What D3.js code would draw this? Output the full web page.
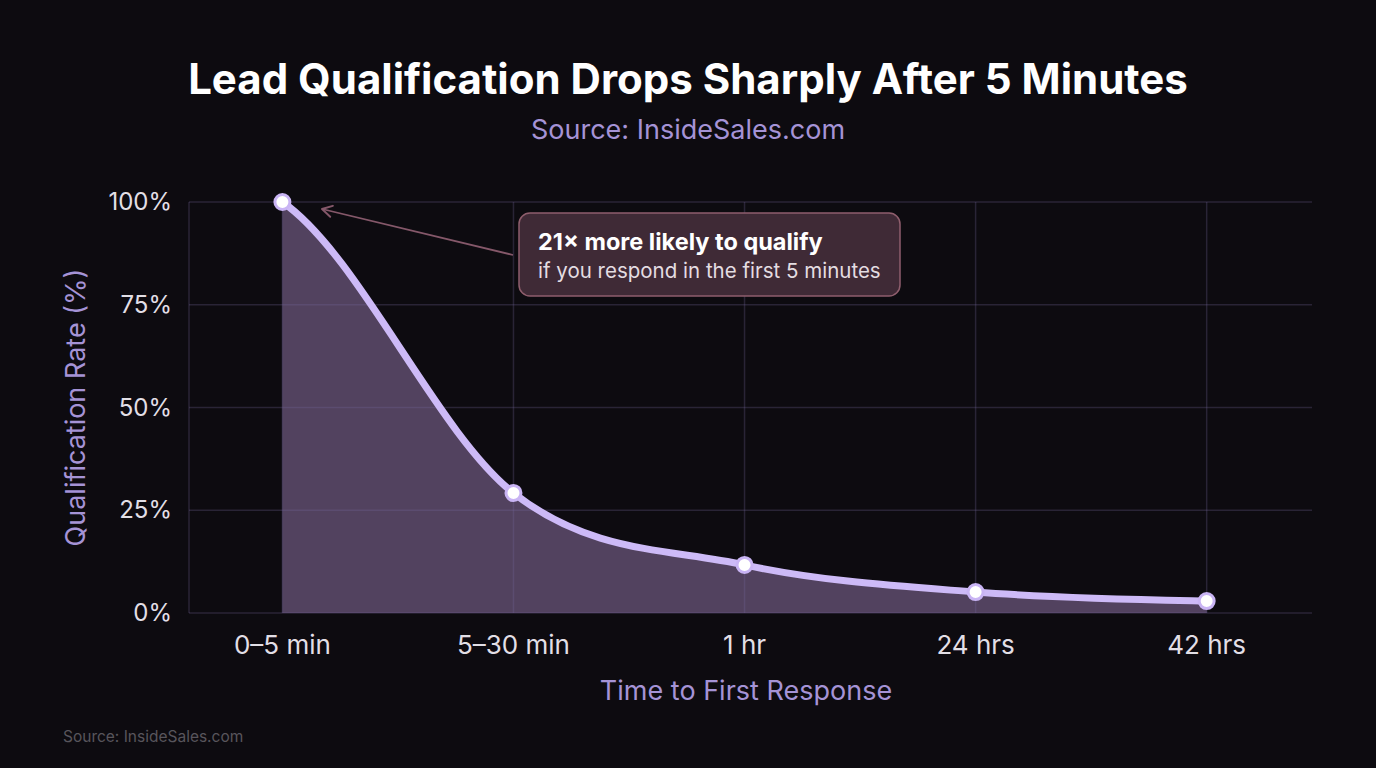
<!DOCTYPE html>
<html>
<head>
<meta charset="utf-8">
<script src="https://cdn.jsdelivr.net/npm/d3@7"></script>
<style>
  html, body { margin: 0; padding: 0; background: #0d0b10; }
  svg { display: block; font-family: Inter, "Noto Sans", sans-serif; }
</style>
</head>
<body>
<svg id="chart" width="1376" height="768"></svg>
<script>
const categories = ['0–5 min', '5–30 min', '1 hr', '24 hrs', '42 hrs'];
const rates = [100, 29.2, 11.7, 5.1, 2.9];
const yTicks = [0, 25, 50, 75, 100];

const svg = d3.select('#chart');
const W = 1376, H = 768;
const plotLeft = 189, plotRight = 1312, plotTop = 202, plotBottom = 613;

svg.append('rect').attr('width', W).attr('height', H).attr('fill', '#0d0b10');

const x = d3.scalePoint().domain(categories).range([plotLeft, plotRight]).padding(0.43).align(0.47);
const y = d3.scaleLinear().domain([0, 100]).range([plotBottom, plotTop]);

const data = categories.map((c, i) => ({ cat: c, value: rates[i] }));

/*smooth curve: catmull-style tangents inside, soft tangents at the ends*/
function curveSoft(context) {
  let pts, line;
  const slope = (a, b) => (b[1] - a[1]) / (b[0] - a[0]);
  return {
    areaStart() { line = 0; },
    areaEnd() { line = NaN; },
    lineStart() { pts = []; },
    point(px, py) { pts.push([+px, +py]); },
    lineEnd() {
      const n = pts.length;
      if (n) {
        if (line) context.lineTo(pts[0][0], pts[0][1]);
        else context.moveTo(pts[0][0], pts[0][1]);
        const m = pts.map((p, i) => {
          if (n < 2) return 0;
          if (i === 0) return 0.55 * slope(pts[0], pts[1]);
          if (i === n - 1) return 0.55 * slope(pts[n - 2], pts[n - 1]);
          return slope(pts[i - 1], pts[i + 1]);
        });
        for (let i = 0; i < n - 1; i++) {
          const [x0, y0] = pts[i], [x1, y1] = pts[i + 1];
          const h = (x1 - x0) / 3;
          context.bezierCurveTo(x0 + h, y0 + m[i] * h, x1 - h, y1 - m[i + 1] * h, x1, y1);
        }
      }
      if (line || (line !== 0 && n === 1)) context.closePath();
      line = 1 - line;
    }
  };
}

/*area under the curve*/
const area = d3.area()
  .x(d => x(d.cat)).y0(y(0)).y1(d => y(d.value))
  .curve(curveSoft);
const line = d3.line()
  .x(d => x(d.cat)).y(d => y(d.value))
  .curve(curveSoft);

svg.append('path').datum(data).attr('d', area)
  .attr('fill', '#52425f');

/*grid - drawn over the fill, translucent*/
const gridColor = 'rgba(120,105,160,0.27)';
const grid = svg.append('g');
grid.selectAll('line.h')
  .data(yTicks)
  .join('line')
  .attr('class', 'h')
  .attr('x1', plotLeft).attr('x2', plotRight)
  .attr('y1', d => y(d)).attr('y2', d => y(d))
  .attr('stroke', gridColor).attr('stroke-width', 1.5);
grid.selectAll('line.v')
  .data([null, ...categories])
  .join('line')
  .attr('class', 'v')
  .attr('x1', d => d === null ? plotLeft : x(d))
  .attr('x2', d => d === null ? plotLeft : x(d))
  .attr('y1', plotTop).attr('y2', plotBottom)
  .attr('stroke', gridColor).attr('stroke-width', 1.5);

svg.append('path').datum(data).attr('d', line)
  .attr('fill', 'none').attr('stroke', '#cdbaf7').attr('stroke-width', 7)
  .attr('stroke-linecap', 'round');

svg.selectAll('circle.pt')
  .data(data)
  .join('circle')
  .attr('class', 'pt')
  .attr('cx', d => x(d.cat)).attr('cy', d => y(d.value))
  .attr('r', 7.5)
  .attr('fill', '#ffffff').attr('stroke', '#c9b4f4').attr('stroke-width', 3);

/*y axis*/
svg.append('g').selectAll('text')
  .data(yTicks)
  .join('text')
  .attr('x', 172).attr('y', d => y(d) + 8)
  .attr('text-anchor', 'end')
  .attr('fill', '#e2dfe6').attr('font-size', 24)
  .text(d => d + '%');

svg.append('text')
  .attr('transform', `translate(85,${(plotTop + plotBottom) / 2}) rotate(-90)`)
  .attr('text-anchor', 'middle')
  .attr('fill', '#a593d6').attr('font-size', 27)
  .text('Qualification Rate (%)');

/*x axis*/
svg.append('g').selectAll('text')
  .data(categories)
  .join('text')
  .attr('x', d => x(d)).attr('y', 654)
  .attr('text-anchor', 'middle')
  .attr('fill', '#e2dfe6').attr('font-size', 26)
  .text(d => d);

svg.append('text')
  .attr('x', 746).attr('y', 700)
  .attr('text-anchor', 'middle')
  .attr('fill', '#a593d6').attr('font-size', 27)
  .text('Time to First Response');

/*titles*/
svg.append('text')
  .attr('x', 688).attr('y', 94)
  .attr('text-anchor', 'middle')
  .attr('fill', '#ffffff').attr('font-size', 42).attr('font-weight', 700)
  .text('Lead Qualification Drops Sharply After 5 Minutes');
svg.append('text')
  .attr('x', 688).attr('y', 139)
  .attr('text-anchor', 'middle')
  .attr('fill', '#a593d6').attr('font-size', 27)
  .text('Source: InsideSales.com');

/*annotation*/
svg.append('defs').append('marker')
  .attr('id', 'arr').attr('viewBox', '0 0 10 10')
  .attr('refX', 9).attr('refY', 5)
  .attr('markerWidth', 14).attr('markerHeight', 14)
  .attr('markerUnits', 'userSpaceOnUse')
  .attr('orient', 'auto')
  .append('path').attr('d', 'M2,1 L9,5 L2,9')
  .attr('fill', 'none').attr('stroke', '#85586a').attr('stroke-width', 1.4)
  .attr('stroke-linecap', 'round').attr('stroke-linejoin', 'round');

svg.append('line')
  .attr('x1', 513).attr('y1', 255)
  .attr('x2', 322).attr('y2', 209)
  .attr('stroke', '#85586a').attr('stroke-width', 1.8)
  .attr('marker-end', 'url(#arr)');

svg.append('rect')
  .attr('x', 519).attr('y', 213).attr('width', 381).attr('height', 83)
  .attr('rx', 11)
  .attr('fill', '#3f2a36').attr('stroke', '#8f5e6d').attr('stroke-width', 1.5);
svg.append('text')
  .attr('x', 538).attr('y', 250)
  .attr('fill', '#ffffff').attr('font-size', 23.5).attr('font-weight', 700)
  .text('21× more likely to qualify');
svg.append('text')
  .attr('x', 538).attr('y', 278)
  .attr('fill', '#e4dde2').attr('font-size', 20.5)
  .text('if you respond in the first 5 minutes');

/*footer*/
svg.append('text')
  .attr('x', 63).attr('y', 742)
  .attr('fill', '#58555c').attr('font-size', 15.5)
  .text('Source: InsideSales.com');
</script>
</body>
</html>
